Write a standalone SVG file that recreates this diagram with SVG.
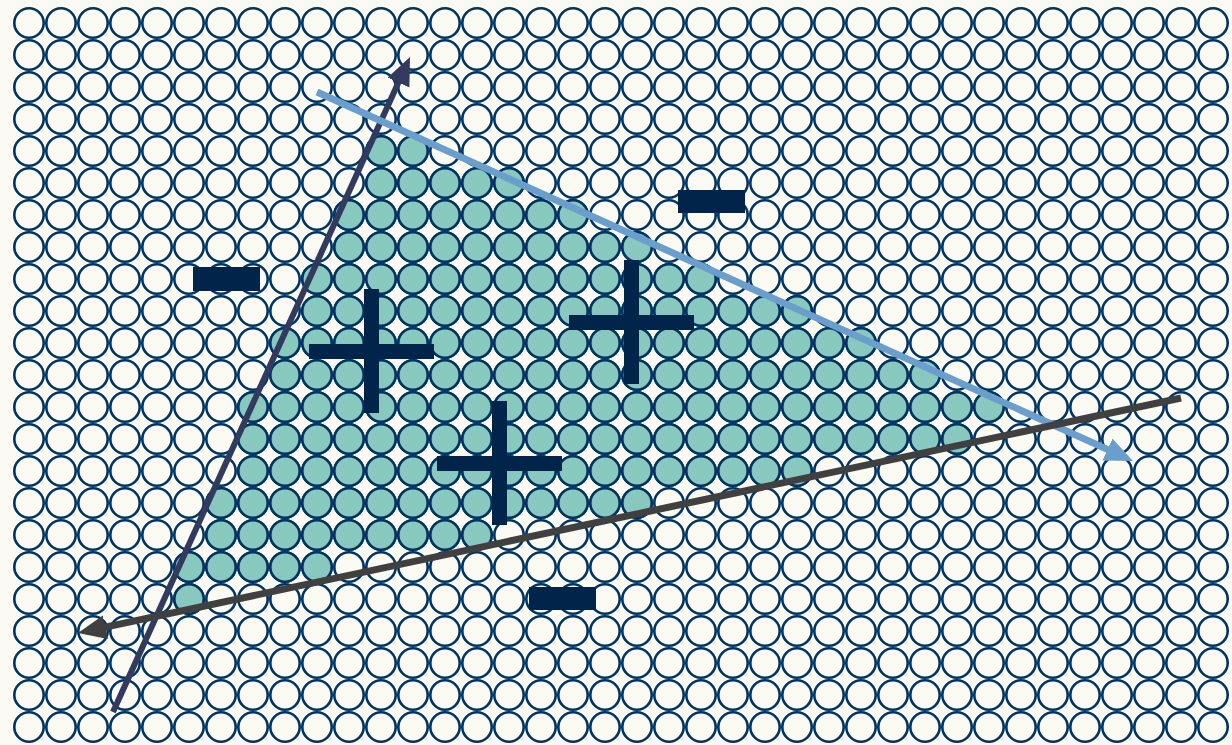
<svg xmlns="http://www.w3.org/2000/svg" xmlns:xlink="http://www.w3.org/1999/xlink" width="1232" height="745" viewBox="0 0 1232 745">
<style>
.sign{fill:#00244a}
.ln{fill:none;stroke-linecap:butt}
</style>
<defs>
<pattern id="wp" patternUnits="userSpaceOnUse" x="13" y="7" width="32" height="32">
<circle cx="16" cy="16" r="14.7" fill="#fbfbf4" stroke="#003462" stroke-width="2.6"/>
</pattern>
<pattern id="gp" patternUnits="userSpaceOnUse" x="13" y="7" width="32" height="32">
<circle cx="16" cy="16" r="14.7" fill="#88c8bf" stroke="#003462" stroke-width="2.6"/>
</pattern>
<marker id="mNavy" markerUnits="userSpaceOnUse" markerWidth="32" markerHeight="26" refX="12" refY="12" orient="auto"><path d="M0,0 L28,12 L0,24 z" fill="#323a5e"/></marker>
<marker id="mBlue" markerUnits="userSpaceOnUse" markerWidth="32" markerHeight="26" refX="12" refY="12" orient="auto"><path d="M0,0 L28,12 L0,24 z" fill="#6a9ecc"/></marker>
<marker id="mGray" markerUnits="userSpaceOnUse" markerWidth="32" markerHeight="26" refX="12" refY="12" orient="auto"><path d="M0,0 L28,12 L0,24 z" fill="#404040"/></marker>
</defs>
<rect width="1232" height="745" fill="#faf9f2"/>
<g id="grid">
<rect x="13" y="7" width="1216" height="736" fill="url(#wp)"/>
</g>
<g id="region" fill="url(#gp)">
<rect x="365" y="135" width="64" height="32"/>
<rect x="365" y="167" width="160" height="32"/>
<rect x="333" y="199" width="256" height="32"/>
<rect x="333" y="231" width="320" height="32"/>
<rect x="301" y="263" width="416" height="32"/>
<rect x="301" y="295" width="512" height="32"/>
<rect x="269" y="327" width="608" height="32"/>
<rect x="269" y="359" width="672" height="32"/>
<rect x="237" y="391" width="768" height="32"/>
<rect x="237" y="423" width="736" height="32"/>
<rect x="237" y="455" width="576" height="32"/>
<rect x="205" y="487" width="448" height="32"/>
<rect x="205" y="519" width="288" height="32"/>
<rect x="173" y="551" width="160" height="32"/>
<rect x="173" y="583" width="32" height="32"/>
</g>
<g id="signs">
<g id="minus1"><rect class="sign" x="193" y="267" width="67" height="24"/></g>
<g id="minus2"><rect class="sign" x="678" y="190" width="67" height="23"/></g>
<g id="minus3"><rect class="sign" x="529" y="587" width="67" height="23"/></g>
<g id="plus1"><rect class="sign" x="364" y="289" width="15" height="124"/><rect class="sign" x="309" y="344" width="125" height="15"/></g>
<g id="plus2"><rect class="sign" x="624" y="260" width="15" height="124"/><rect class="sign" x="569" y="315" width="125" height="15"/></g>
<g id="plus3"><rect class="sign" x="492" y="401" width="15" height="124"/><rect class="sign" x="437" y="456" width="125" height="15"/></g>
</g>
<g id="connectors">
<line class="ln" x1="113" y1="712" x2="403.4" y2="71.6" stroke="#323a5e" stroke-width="6" marker-end="url(#mNavy)"/>
<line class="ln" x1="317" y1="92" x2="1118.4" y2="454.4" stroke="#6a9ecc" stroke-width="7" marker-end="url(#mBlue)"/>
<line class="ln" x1="1181" y1="398" x2="93.6" y2="629.7" stroke="#404040" stroke-width="7" marker-end="url(#mGray)"/>
</g>
</svg>
